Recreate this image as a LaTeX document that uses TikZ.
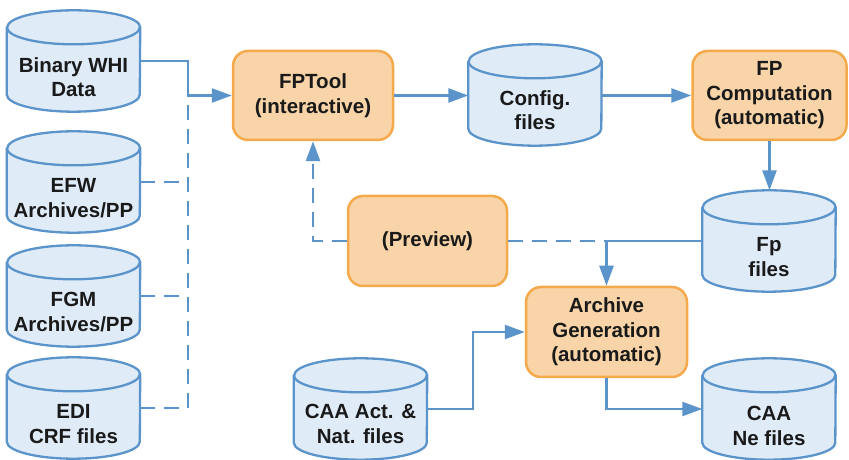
\documentclass[tikz,border=0pt]{standalone}
\usepackage{fontspec}
\setmainfont{Liberation Sans}
\usetikzlibrary{arrows.meta,calc}
\definecolor{lineblue}{HTML}{5B93CB}
\definecolor{cylfillc}{HTML}{DFECF7}
\definecolor{boxfillc}{HTML}{F9D4A8}
\definecolor{boxdrawc}{HTML}{F4A94A}
\definecolor{txt}{HTML}{1A1A1A}
\newcommand\drawcyl[1]{%
  \path[cylbody] ([yshift=-17pt]#1.north west) -- ([yshift=17pt]#1.south west)
    arc[start angle=180,end angle=360,x radius=66.5pt,y radius=17pt]
    -- ([yshift=-17pt]#1.north east)
    arc[start angle=0,end angle=180,x radius=66.5pt,y radius=17pt] -- cycle;
  \draw[cylline] ([yshift=-17pt]#1.north west)
    arc[start angle=180,end angle=360,x radius=66.5pt,y radius=17pt];
}
\begin{document}
\begin{tikzpicture}[x=1pt,y=1pt,
  txtstyle/.style={font=\fontsize{20.5}{24.5}\selectfont\bfseries, text=txt, align=center},
  cylnode/.style={rectangle, draw=none, inner sep=0pt, minimum width=133pt, minimum height=101pt},
  cylbody/.style={fill=cylfillc, draw=lineblue, line width=2.3pt, line join=round},
  cylline/.style={draw=lineblue, line width=2.3pt},
  cyltext/.style={txtstyle},
  procbox/.style={rectangle, rounded corners=15pt, fill=boxfillc, draw=boxdrawc, line width=2.5pt,
    minimum height=89pt, inner sep=0pt, txtstyle},
  conn/.style={draw=lineblue, line width=2.5pt},
  arr/.style={conn, -{Triangle[length=20pt,width=14pt]}},
  dconn/.style={conn, dash pattern=on 15pt off 9pt},
  darr/.style={dconn, -{Triangle[length=20pt,width=14pt]}},
]
\useasboundingbox (0,0) rectangle (849,460);

% cylinders
\node[cylnode] (bin) at (73.5,399) {};
\node[cylnode] (efw) at (73.5,278) {};
\node[cylnode] (fgm) at (73.5,164) {};
\node[cylnode] (edi) at (73.5,52) {};
\node[cylnode] (config) at (535,365) {};
\node[cylnode] (fp) at (769,219) {};
\node[cylnode] (caaact) at (360.5,51) {};
\node[cylnode] (caane) at (769,51) {};
\foreach \c in {bin,efw,fgm,edi,config,fp,caaact,caane}{\drawcyl{\c}}

\node[cyltext] (bin-t) at ([yshift=-16pt]bin.center) {Binary WHI\\Data};
\node[cyltext] (efw-t) at ([yshift=-16pt]efw.center) {EFW\\Archives/PP};
\node[cyltext] (fgm-t) at ([yshift=-16pt]fgm.center) {FGM\\Archives/PP};
\node[cyltext] (edi-t) at ([yshift=-16pt]edi.center) {EDI\\CRF files};
\node[cyltext] (config-t) at ([yshift=-15pt]config.center) {Config.\\files};
\node[cyltext] (fp-t) at ([yshift=-16pt]fp.center) {Fp\\files};
\node[cyltext] (caaact-t) at ([yshift=-15pt]caaact.center) {CAA Act. \&\\Nat. files};
\node[cyltext] (caane-t) at ([yshift=-17pt]caane.center) {CAA\\Ne files};

% process boxes
\node[procbox, minimum width=160pt] (fptool) at (313,364.5) {FPTool\\(interactive)};
\node[procbox, minimum width=154pt] (fpcomp) at (769.5,364.5) {FP\\Computation\\(automatic)};
\node[procbox, minimum width=159pt, minimum height=90pt] (preview) at (427.5,219) {(Preview)};
\node[procbox, minimum width=161pt, minimum height=90pt] (archive) at (606.5,128) {Archive\\Generation\\(automatic)};

% junction coordinates
\coordinate (j1) at (188,0);
\coordinate (j2) at (473,0);

% connectors
\draw[arr] (bin.east) -| (j1 |- fptool.west) -- (fptool.west);
\draw[dconn] (efw.east) -- (j1 |- efw.east);
\draw[dconn] (fgm.east) -- (j1 |- fgm.east);
\draw[dconn] (edi.east) -| (j1 |- fptool.west);
\draw[arr] (fptool.east) -- (fptool.east -| config.west);
\draw[arr] (config.east |- fpcomp.west) -- (fpcomp.west);
\draw[arr] (fpcomp.south) -- (fpcomp.south |- fp.north);
\draw[arr] (fp.west) -| (archive.north);
\draw[dconn] (preview.east) -- (preview.east -| archive.north);
\draw[darr] (preview.west) -| (fptool.south);
\draw[arr] (caaact.east) -| (j2 |- archive.west) -- (archive.west);
\draw[arr] (archive.south) |- (caane.west);
\end{tikzpicture}
\end{document}
